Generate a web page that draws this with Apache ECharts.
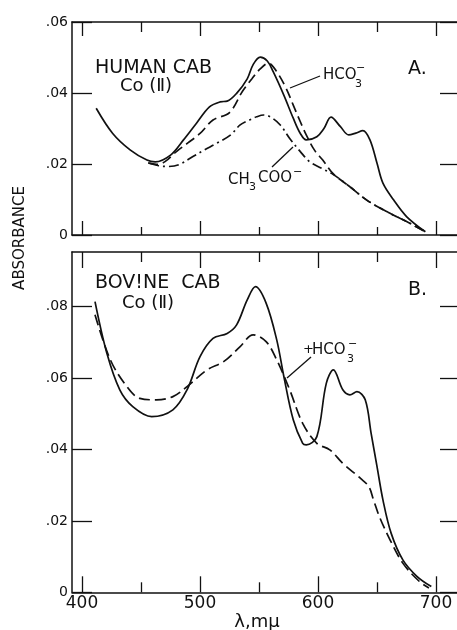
<!DOCTYPE html>
<html>
<head>
<meta charset="utf-8">
<script src="https://cdn.jsdelivr.net/npm/echarts@6/dist/echarts.min.js"></script>
<style>
html,body{margin:0;padding:0;background:#fff;overflow:hidden;}
#chart{width:457px;height:630px;}
</style>
</head>
<body>
<div id="chart"></div>
<script>
// ---- Data ----
// Panel A: Human CAB Co(II)
var lambdaA_solid = [412, 426, 441, 455, 462, 475, 486, 497, 508, 517, 523, 531, 540, 545, 551, 557, 562, 571, 579, 585, 590, 599, 605, 611, 619, 626, 632, 638, 644, 650, 655, 664, 675, 691];
var absA_solid    = [.0357, .0286, .0239, .0211, .0206, .0225, .0268, .0315, .0361, .0375, .0377, .0399, .0440, .0480, .0501, .0490, .0460, .0394, .0329, .0286, .0268, .0277, .0300, .0332, .0305, .0282, .0287, .0294, .0268, .0202, .0146, .0099, .0052, .0009];

var lambdaA_hco3 = [456, 463, 470, 480, 490, 500, 511, 525, 536, 544, 551, 558, 565, 573, 579, 585, 590, 597, 604, 613, 627, 641, 661, 675, 691];
var absA_hco3    = [.0203, .0199, .0206, .0235, .0260, .0286, .0324, .0345, .0405, .0440, .0468, .0484, .0460, .0413, .0366, .0319, .0282, .0239, .0211, .0172, .0136, .0099, .0061, .0038, .0009];

var lambdaA_acet = [457, 465, 473, 482, 494, 504, 514, 526, 534, 542, 548, 554, 560, 568, 576, 585, 593, 603, 613, 627, 641, 661, 675, 691];
var absA_acet    = [.0202, .0195, .0193, .0198, .0221, .0240, .0258, .0282, .0310, .0324, .0333, .0338, .0332, .0310, .0272, .0235, .0206, .0188, .0170, .0136, .0099, .0061, .0038, .0009];

// Panel B: Bovine CAB Co(II)
var lambdaB_solid = [411, 421, 432, 443, 459, 477, 489, 500, 511, 523, 531, 540, 547, 556, 565, 571, 579, 587, 590, 599, 607, 613, 621, 627, 633, 640, 645, 650, 655, 662, 672, 684, 696];
var absB_solid    = [.0814, .0670, .0567, .0520, .0492, .0511, .0567, .0660, .0711, .0725, .0749, .0819, .0856, .0810, .0707, .0605, .0483, .0417, .0413, .0436, .0585, .0623, .0567, .0553, .0562, .0539, .0445, .0352, .0259, .0165, .0090, .0044, .0016];

var lambdaB_hco3 = [411, 424, 438, 449, 463, 477, 489, 506, 520, 534, 545, 556, 565, 576, 587, 599, 610, 621, 636, 643, 647, 652, 661, 672, 686, 694];
var absB_hco3    = [.0777, .0651, .0576, .0543, .0539, .0548, .0576, .0623, .0646, .0688, .0721, .0702, .0651, .0567, .0473, .0417, .0399, .0361, .0319, .0296, .0259, .0212, .0147, .0081, .0030, .0012];

// Tick values / labels
var xMajorTicks = [400, 500, 600, 700];
var xMinorTicks = [450, 550, 650];
var yTicksA = [0, 0.02, 0.04, 0.06];
var yTicksB = [0, 0.02, 0.04, 0.06, 0.08];

function pairs(xs, ys) { return xs.map(function (x, i) { return [x, ys[i]]; }); }

var FONT = 'DejaVu Sans';
var INK = '#111';
var GRID_W = 400;
var X_MIN = 391.5, X_MAX = 391.5 + GRID_W / 1.18;

function xAxisDef(gridIndex, position, ticks, len, showLine, showLabels) {
  return {
    type: 'value', gridIndex: gridIndex, position: position, min: X_MIN, max: X_MAX,
    axisLine: { show: showLine, lineStyle: { color: INK, width: 1.5 } },
    axisTick: { show: true, inside: true, length: len, customValues: ticks, lineStyle: { color: INK, width: 1.3 } },
    axisLabel: showLabels ? { show: true, customValues: xMajorTicks, color: INK, fontFamily: FONT, fontSize: 17, margin: 3 } : { show: false },
    splitLine: { show: false }
  };
}
function yLabelFmt(v) { return v === 0 ? '0' : v.toFixed(2).replace(/^0/, ''); }
function yAxisDef(gridIndex, position, max, ticks, showLabels, tickLen, showLine) {
  return {
    type: 'value', gridIndex: gridIndex, position: position, min: 0, max: max,
    axisLine: { show: showLine, lineStyle: { color: INK, width: 1.5 } },
    axisTick: { show: true, inside: true, length: tickLen, customValues: ticks, lineStyle: { color: INK, width: 1.3 } },
    axisLabel: showLabels ? { show: true, customValues: ticks, formatter: yLabelFmt, color: INK, fontFamily: FONT, fontSize: 14, margin: 4, padding: [0, 0, 6, 0] } : { show: false },
    splitLine: { show: false }
  };
}
function lineSeries(xi, yi, data, type) {
  return {
    type: 'line', xAxisIndex: xi, yAxisIndex: yi, data: data, showSymbol: false, symbol: 'none',
    smooth: 0.35, silent: true,
    lineStyle: { color: INK, width: 1.7, type: type }
  };
}
function txt(x, y, s, size, align) {
  return { type: 'text', x: x, y: y, silent: true,
    style: { text: s, fill: INK, font: size + 'px "' + FONT + '"', textAlign: align || 'left', textVerticalAlign: 'middle' } };
}
function seg(x1, y1, x2, y2) {
  return { type: 'line', silent: true, shape: { x1: x1, y1: y1, x2: x2, y2: y2 }, style: { stroke: INK, lineWidth: 1.3 } };
}

var chart = echarts.init(document.getElementById('chart'), null, { renderer: 'canvas' });
chart.setOption({
  backgroundColor: '#ffffff',
  animation: false,
  grid: [
    { left: 72, top: 22, width: GRID_W, height: 213, containLabel: false, outerBoundsMode: 'none' },
    { left: 72, top: 252, width: GRID_W, height: 340.3, containLabel: false, outerBoundsMode: 'none' }
  ],
  xAxis: [
    xAxisDef(0, 'bottom', xMajorTicks, 14, true, false),
    xAxisDef(0, 'bottom', xMinorTicks, 8, false, false),
    xAxisDef(0, 'top', xMajorTicks, 14, true, false),
    xAxisDef(0, 'top', xMinorTicks, 10, false, false),
    xAxisDef(1, 'bottom', xMajorTicks, 16, true, true),
    xAxisDef(1, 'bottom', xMinorTicks, 10, false, false),
    xAxisDef(1, 'top', xMajorTicks, 16, true, false),
    xAxisDef(1, 'top', xMinorTicks, 10, false, false)
  ],
  yAxis: [
    yAxisDef(0, 'left', 0.06, yTicksA, true, 20, true),
    yAxisDef(0, 'right', 0.06, yTicksA, false, 32, false),
    yAxisDef(1, 'left', 0.0953, yTicksB, true, 20, true),
    yAxisDef(1, 'right', 0.0953, yTicksB, false, 32, false)
  ],
  series: [
    lineSeries(0, 0, pairs(lambdaA_solid, absA_solid), 'solid'),
    lineSeries(0, 0, pairs(lambdaA_hco3, absA_hco3), [10, 5]),
    lineSeries(0, 0, pairs(lambdaA_acet, absA_acet), [10, 4, 2, 4]),
    lineSeries(4, 2, pairs(lambdaB_solid, absB_solid), 'solid'),
    lineSeries(4, 2, pairs(lambdaB_hco3, absB_hco3), [11, 5])
  ],
  graphic: [
    // axis titles
    { type: 'text', x: 20, y: 238, rotation: Math.PI / 2, silent: true,
      style: { text: 'ABSORBANCE', fill: INK, font: '15px "' + FONT + '"', textAlign: 'center', textVerticalAlign: 'middle' } },
    txt(257, 622, 'λ,mμ', 18, 'center'),
    // panel A
    txt(95, 68, 'HUMAN CAB', 19),
    txt(146, 86, 'Co (Ⅱ)', 18, 'center'),
    txt(408, 69, 'A.', 19),
    txt(323, 75, 'HCO', 15),
    txt(355, 84, '3', 11),
    txt(356, 68, '−', 11),
    seg(290, 88, 320, 76),
    txt(228, 180, 'CH', 15),
    txt(249, 187, '3', 11),
    txt(258, 178, 'COO', 15),
    txt(293, 172, '−', 11),
    seg(272, 167, 293, 147),
    // panel B
    txt(95, 283, 'BOV!NE  CAB', 19),
    txt(148, 303, 'Co (Ⅱ)', 18, 'center'),
    txt(408, 290, 'B.', 19),
    txt(303, 350, '+', 13),
    txt(312, 350, 'HCO', 15),
    txt(347, 359, '3', 11),
    txt(348, 344, '−', 11),
    seg(287, 378, 311, 357)
  ]
});
</script>
</body>
</html>
